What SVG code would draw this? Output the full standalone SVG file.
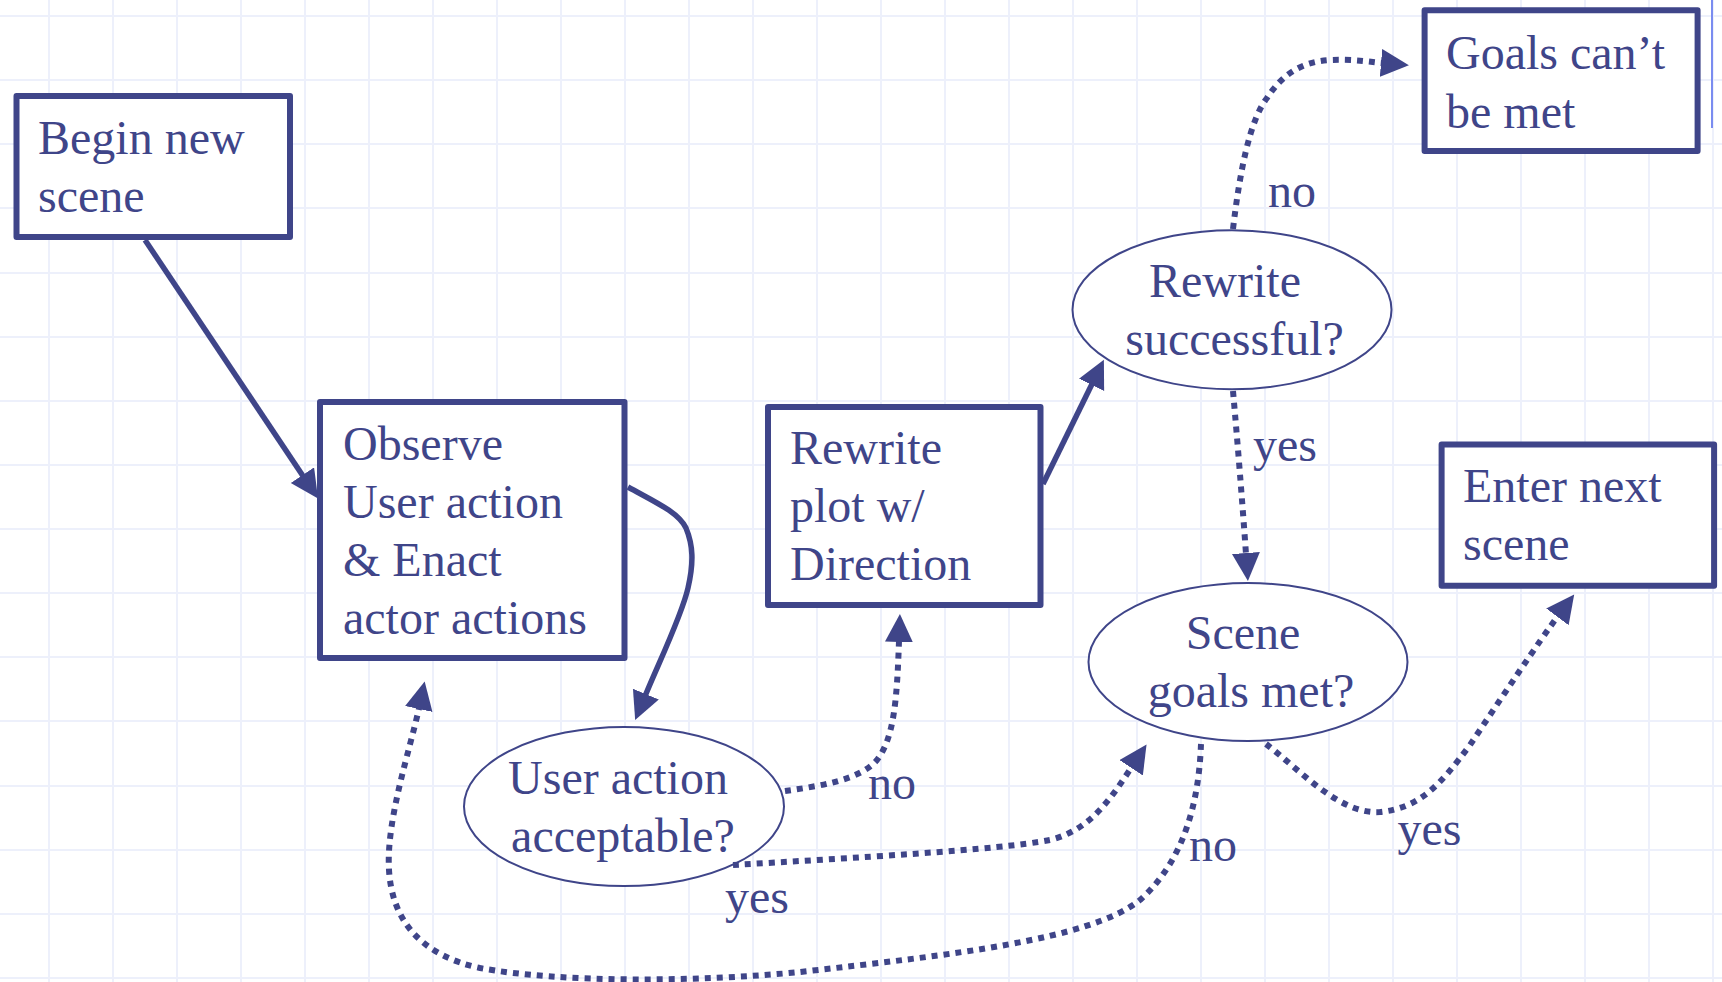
<svg xmlns="http://www.w3.org/2000/svg" width="1722" height="982" viewBox="0 0 1722 982">
<style>
.bg{fill:#ffffff}
.grid{stroke:#edf0fb;stroke-width:2;fill:none}
.box{fill:#ffffff;stroke:#3f4589;stroke-width:6;stroke-linejoin:round}
.ell{fill:#ffffff;stroke:#3f4589;stroke-width:2}
.t{font-family:"Liberation Serif","Times New Roman",serif;font-size:48px;fill:#3f4589}
.m{text-anchor:middle}
.solid{fill:none;stroke:#3f4589;stroke-width:5.5}
.dot{fill:none;stroke:#3f4589;stroke-width:6;stroke-dasharray:6 6}
.ah{fill:#3f4589;stroke:none}
</style>
<defs>
<marker id="arrow" markerUnits="userSpaceOnUse" markerWidth="30" markerHeight="30" refX="1" refY="14" orient="auto" viewBox="0 0 30 30">
<path class="ah" d="M0,0 L28,14 L0,28 z"/>
</marker>
</defs>
<rect class="bg" x="0" y="0" width="1722" height="982"/>
<g id="grid">
<path class="grid" d="M49,0V982M113,0V982M177,0V982M241,0V982M305,0V982M369,0V982M433,0V982M497,0V982M561,0V982M625,0V982M689,0V982M753,0V982M817,0V982M881,0V982M945,0V982M1009,0V982M1073,0V982M1137,0V982M1201,0V982M1265,0V982M1329,0V982M1393,0V982M1457,0V982M1521,0V982M1585,0V982M1649,0V982M1713,0V982"/>
<path class="grid" d="M0,16H1722M0,80H1722M0,144H1722M0,208H1722M0,273H1722M0,337H1722M0,401H1722M0,465H1722M0,529H1722M0,593H1722M0,657H1722M0,721H1722M0,786H1722M0,850H1722M0,914H1722M0,978H1722"/>
<line x1="1712" y1="0" x2="1712" y2="128" stroke="#7a8cf0" stroke-width="2"/>
</g>
<g id="begin">
<rect class="box" x="16.5" y="96" width="273.5" height="141"/>
<text class="t" x="38" y="154">Begin new</text>
<text class="t" x="38" y="212">scene</text>
</g>
<g id="observe">
<rect class="box" x="320" y="402" width="304.5" height="256"/>
<text class="t" x="343" y="460">Observe</text>
<text class="t" x="343" y="518">User action</text>
<text class="t" x="343" y="576">&amp; Enact</text>
<text class="t" x="343" y="634">actor actions</text>
</g>
<g id="rewrite-plot">
<rect class="box" x="768" y="407" width="272.5" height="198"/>
<text class="t" x="790" y="464">Rewrite</text>
<text class="t" x="790" y="522">plot w/</text>
<text class="t" x="790" y="580">Direction</text>
</g>
<g id="goals-cant">
<rect class="box" x="1424.6" y="10.3" width="273" height="140.7"/>
<text class="t" x="1446" y="69">Goals can’t</text>
<text class="t" x="1446" y="128">be met</text>
</g>
<g id="enter-next">
<rect class="box" x="1441.6" y="444.5" width="272.5" height="141.3"/>
<text class="t" x="1463" y="502">Enter next</text>
<text class="t" x="1463" y="560">scene</text>
</g>
<g id="user-acceptable">
<ellipse class="ell" cx="624" cy="806.5" rx="160" ry="79.5"/>
<text class="t m" x="618" y="793.5">User action</text>
<text class="t m" x="623" y="852">acceptable?</text>
</g>
<g id="rewrite-successful">
<ellipse class="ell" cx="1232" cy="309.7" rx="159.5" ry="79.5"/>
<text class="t m" x="1225" y="297">Rewrite</text>
<text class="t m" x="1234.5" y="355">successful?</text>
</g>
<g id="scene-goals">
<ellipse class="ell" cx="1248" cy="662" rx="159.5" ry="79"/>
<text class="t m" x="1243" y="649">Scene</text>
<text class="t m" x="1251" y="707">goals met?</text>
</g>
<g id="connectors">
<path class="solid" marker-end="url(#arrow)" d="M145,240 L303,476"/>
<path class="solid" marker-end="url(#arrow)" d="M628,487 C655,502 678,512 686,528 C693,545 694,562 688,588 C682,615 660,660 645.5,695"/>
<path class="solid" marker-end="url(#arrow)" d="M1043,484 L1092,384"/>
<path class="dot" marker-end="url(#arrow)" d="M1233,229 C1240,170 1250,120 1267,98 C1282,75 1300,62 1330,60 C1355,59 1370,62 1382,63"/>
<path class="dot" marker-end="url(#arrow)" d="M1233,391 Q1240,470 1246,554"/>
<path class="dot" marker-end="url(#arrow)" d="M785,791 C820,786 860,780 877,760 C894,738 897,700 899,641"/>
<path class="dot" marker-end="url(#arrow)" d="M733,865 C850,858 1000,850 1050,840 C1090,830 1110,800 1131.7,767"/>
<path class="dot" marker-end="url(#arrow)" d="M1201,744 C1199,800 1185,860 1140,900 C1090,940 950,955 800,972 C700,982 560,983 480,968 C420,955 392,920 389,870 C386,820 410,750 419,708"/>
<path class="dot" marker-end="url(#arrow)" d="M1266,744 C1300,770 1340,815 1380,812 C1420,808 1440,785 1470,745 C1500,700 1540,640 1558,616"/>
<text class="t" x="1268" y="207">no</text>
<text class="t" x="1253" y="461">yes</text>
<text class="t" x="868" y="799">no</text>
<text class="t" x="725" y="913">yes</text>
<text class="t" x="1189" y="861">no</text>
<text class="t" x="1397.5" y="845">yes</text>
</g>
</svg>
